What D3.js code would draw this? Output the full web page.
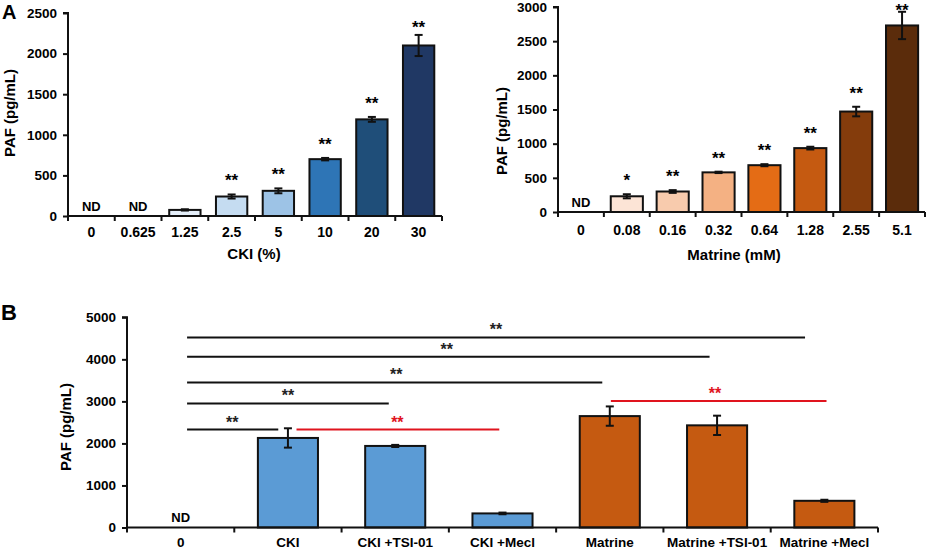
<!DOCTYPE html>
<html><head><meta charset="utf-8">
<script src="https://cdn.jsdelivr.net/npm/d3@7"></script>
<style>
body{margin:0;background:#fff;}
svg text{font-family:"Liberation Sans",Arial,Helvetica,sans-serif;font-weight:bold;fill:#000;}
</style></head>
<body><svg id="c" width="934" height="550"></svg>
<script>
// ---------- DATA ----------
const ckiDoses = ["0","0.625","1.25","2.5","5","10","20","30"];
const ckiValues = [0,0,75,240,310,700,1190,2100];
const ckiErrors = [0,0,8,25,30,15,30,130];
const ckiMarks = ["ND","ND","","**","**","**","**","**"];
const ckiColors = ["#fff","#fff","#e4eef9","#c5dcf1","#9dc3e6","#2e75b6","#1f4e79","#203864"];
const ckiTicks = [0,500,1000,1500,2000,2500];

const matDoses = ["0","0.08","0.16","0.32","0.64","1.28","2.55","5.1"];
const matValues = [0,230,300,580,685,935,1470,2730];
const matErrors = [0,30,20,10,15,20,70,200];
const matMarks = ["ND","*","**","**","**","**","**","**"];
const matColors = ["#fff","#fce4d6","#f8cbad","#f4b183","#e46c15","#c55a11","#843c0c","#5b2c0b"];
const matTicks = [0,500,1000,1500,2000,2500,3000];

const bGroups = ["0","CKI","CKI +TSI-01","CKI +Mecl","Matrine","Matrine +TSI-01","Matrine +Mecl"];
const bValues = [0,2130,1940,335,2650,2430,635];
const bErrors = [0,230,25,20,230,230,25];
const bMarks = ["ND","","","","","",""];
const bColors = ["#fff","#5b9bd5","#5b9bd5","#5b9bd5","#c55a11","#c55a11","#c55a11"];
const bTicks = [0,1000,2000,3000,4000,5000];
// significance brackets: from / to (in category units), level (pg/mL), star position, red?
const sigFrom  = [0.56,1.58,0.56,0.56,0.56,0.56,4.51];
const sigTo    = [1.41,3.47,2.44,4.43,5.43,6.32,6.52];
const sigLevel = [2330,2330,2950,3450,4060,4520,3010];
const sigStarX = [0.98,2.52,1.50,2.51,2.98,3.44,5.48];
const sigRed   = [false,true,false,false,false,false,true];

// ---------- DRAW ----------
const svg = d3.select("#c");
const RED = "#e0141e";

function panel(o){
  const g = svg.append("g");
  const n = o.cats.length;
  const x = d3.scaleBand().domain(d3.range(n)).range(o.xr).paddingInner(o.pad).paddingOuter(o.pad/2);
  const y = d3.scaleLinear().domain([0,o.ymax]).range(o.yr);
  // bars
  g.selectAll("rect.bar").data(o.values).join("rect")
    .attr("x",(d,i)=>x(i)).attr("width",x.bandwidth())
    .attr("y",d=>y(d)).attr("height",d=>y(0)-y(d))
    .attr("fill",(d,i)=>o.colors[i]).attr("stroke","#111").attr("stroke-width",2)
    .style("display",d=>d>0?null:"none");
  // error bars
  o.values.forEach((v,i)=>{
    const e=o.errors[i]; if(!v) return;
    const cx=x(i)+x.bandwidth()/2;
    g.append("line").attr("x1",cx).attr("x2",cx).attr("y1",y(v+e)).attr("y2",y(v-e)).attr("stroke","#111").attr("stroke-width",2);
    [v+e,v-e].forEach(t=>g.append("line").attr("x1",cx-4).attr("x2",cx+4).attr("y1",y(t)).attr("y2",y(t)).attr("stroke","#111").attr("stroke-width",2));
  });
  // marks
  o.marks.forEach((m,i)=>{
    if(!m) return;
    const cx=x(i)+x.bandwidth()/2;
    if(m==="ND"){
      g.append("text").attr("x",cx).attr("y",o.yr[0]-o.ndOff).attr("text-anchor","middle").attr("font-size",13).text("ND");
    } else {
      const top = y(o.values[i]+o.errors[i]);
      g.append("text").attr("x",cx).attr("y",Math.max(top-8,o.yr[1]+o.starMin)).attr("text-anchor","middle").attr("font-size",17).text(m);
    }
  });
  // y axis
  const ya = g.append("g").attr("transform",`translate(${o.xr[0]},0)`)
    .call(d3.axisLeft(y).tickValues(o.ticks).tickSize(5).tickPadding(6).tickFormat(d3.format("d")));
  ya.select(".domain").attr("stroke","#111").attr("stroke-width",2).attr("d",`M-5,${o.yr[1]}H0V${o.yr[0]}`);
  ya.selectAll(".tick line").attr("stroke","#111").attr("stroke-width",2);
  ya.selectAll(".tick text").attr("font-size",13.5).attr("fill","#000");
  // x axis
  const step=x.step();
  const xa = g.append("g").attr("transform",`translate(0,${o.yr[0]})`);
  xa.append("line").attr("x1",o.xr[0]).attr("x2",o.xr[1]).attr("stroke","#111").attr("stroke-width",2);
  d3.range(n+1).forEach(k=>{
    const xx=o.xr[0]+k*step;
    xa.append("line").attr("x1",xx).attr("x2",xx).attr("y1",0).attr("y2",5).attr("stroke","#111").attr("stroke-width",2);
  });
  o.cats.forEach((c,i)=>xa.append("text").attr("x",x(i)+x.bandwidth()/2).attr("y",o.xlabY).attr("text-anchor","middle").attr("font-size",o.xfs).text(c));
  if(o.xtitle) svg.append("text").attr("x",o.xtx).attr("y",o.xty).attr("text-anchor","middle").attr("font-size",15).text(o.xtitle);
  svg.append("text").attr("transform",`translate(${o.ytx},${o.yty}) rotate(-90)`).attr("text-anchor","middle").attr("dominant-baseline","central").attr("font-size",15).text("PAF (pg/mL)");
  return {x,y,step};
}

panel({cats:ckiDoses,values:ckiValues,errors:ckiErrors,marks:ckiMarks,colors:ckiColors,ticks:ckiTicks,
  xr:[68,442],yr:[216,13],ymax:2500,pad:0.33,ndOff:5,starMin:20,xlabY:21,xfs:14,
  xtitle:"CKI (%)",xtx:254,xty:259,ytx:9,yty:113});
panel({cats:matDoses,values:matValues,errors:matErrors,marks:matMarks,colors:matColors,ticks:matTicks,
  xr:[558,925],yr:[212,7],ymax:3000,pad:0.30,ndOff:5,starMin:9,xlabY:23,xfs:14,
  xtitle:"Matrine (mM)",xtx:734,xty:260,ytx:501,yty:131});
const pb = panel({cats:bGroups,values:bValues,errors:bErrors,marks:bMarks,colors:bColors,ticks:bTicks,
  xr:[127,878],yr:[527.5,317.3],ymax:5000,pad:0.44,ndOff:6,starMin:0,xlabY:19,xfs:13.5,
  xtitle:null,ytx:65,yty:427});

// significance brackets for B
const bx = v => 127 + v*pb.step;
sigFrom.forEach((f,i)=>{
  const col = sigRed[i]?RED:"#111";
  svg.append("line").attr("x1",bx(f)).attr("x2",bx(sigTo[i])).attr("y1",pb.y(sigLevel[i])).attr("y2",pb.y(sigLevel[i]))
    .attr("stroke",col).attr("stroke-width",2);
  svg.append("text").attr("x",bx(sigStarX[i])).attr("y",pb.y(sigLevel[i])-2).attr("text-anchor","middle")
    .attr("font-size",16).style("fill",sigRed[i]?RED:"#222").text("**");
});

// panel letters
svg.append("text").attr("x",2).attr("y",19).attr("font-size",20).text("A");
svg.append("text").attr("x",1).attr("y",320).attr("font-size",22).text("B");
</script></body></html>
